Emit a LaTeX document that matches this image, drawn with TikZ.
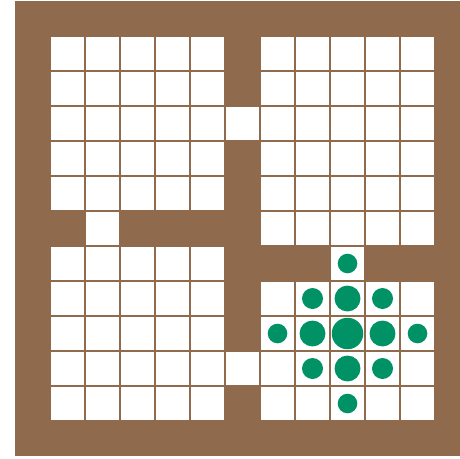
\documentclass[tikz,border=0pt]{standalone}
\usepackage{tikz}

\definecolor{wall}{RGB}{143,106,77}
\definecolor{agent}{RGB}{0,146,101}

% open cells of the four rooms and the four doorways (column/row)
\newcommand{\doorcells}{6/3, 2/6, 9/7, 6/10}
\newcommand{\roomspans}{1/5/1/5, 1/5/7/11, 7/11/1/6, 7/11/8/11}

\begin{document}
\begin{tikzpicture}[x=1cm, y=-1cm]
	\useasboundingbox (-0.4286,-0.0286) rectangle (12.7143,13.0857);
	\fill[wall] (0,0) rectangle (13,13);
	% white inside every open cell, brown gap left between them
	\foreach \ca/\cb/\ra/\rb in \roomspans
		\foreach \c in {\ca,...,\cb}
			\foreach \r in {\ra,...,\rb}
				\fill[white] (\c+0.036,\r+0.036) rectangle (\c+0.964,\r+0.964);
	\foreach \c/\r in \doorcells
		\fill[white] (\c+0.036,\r+0.036) rectangle (\c+0.964,\r+0.964);
	% green dots round the cell (9,9)
	\foreach \c/\r/\s in {9/9/0.45, 8/9/0.37, 10/9/0.37, 9/8/0.37, 9/10/0.37,
			8/8/0.30, 10/8/0.30, 8/10/0.30, 10/10/0.30,
			7/9/0.28, 11/9/0.28, 9/7/0.28, 9/11/0.28}
		\fill[agent] (\c+0.5,\r+0.5) circle (\s);
\end{tikzpicture}
\end{document}
